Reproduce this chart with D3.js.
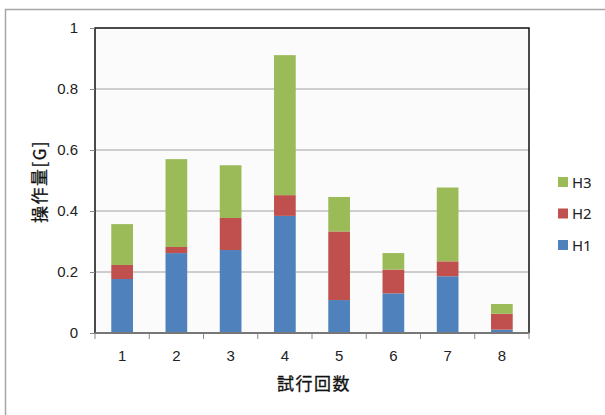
<!DOCTYPE html>
<html lang="ja">
<head>
<meta charset="UTF-8">
<script src="https://d3js.org/d3.v7.min.js"></script>
<style>
  body { margin: 0; padding: 0; background: #fff; }
  svg { display: block; font-family: "Noto Sans", "Noto Sans CJK JP", sans-serif; }
</style>
</head>
<body>
<div id="chart"></div>
<script>
  // 試行回数 and per-trial stacked values
  const trials = ["1", "2", "3", "4", "5", "6", "7", "8"];
  const seriesNames = ["H1", "H2", "H3"];
  const h1 = [0.177, 0.262, 0.272, 0.384, 0.108, 0.130, 0.186, 0.011];
  const h2 = [0.046, 0.020, 0.105, 0.068, 0.225, 0.078, 0.049, 0.052];
  const h3 = [0.134, 0.288, 0.173, 0.459, 0.113, 0.054, 0.242, 0.032];
  const yTicks = [0, 0.2, 0.4, 0.6, 0.8, 1];
  const colors = ["#4f81bd", "#c0504d", "#9bbb59"];

  const W = 605, H = 415;
  const pl = { left: 95, right: 529, top: 28, bottom: 333 };

  const svg = d3.select("#chart").append("svg")
    .attr("width", W).attr("height", H);

  // outer chart border
  svg.append("rect")
    .attr("x", 5.5).attr("y", 9.5)
    .attr("width", 700).attr("height", 500)
    .attr("fill", "#fff").attr("stroke", "#a6a6a6").attr("stroke-width", 1.5);

  const x = d3.scaleBand().domain(trials).range([pl.left, pl.right]).paddingInner(0.6).paddingOuter(0.3);
  const xb = d3.scaleBand().domain(trials).range([pl.left, pl.right]);
  const y = d3.scaleLinear().domain([0, 1]).range([pl.bottom, pl.top]);

  // plot area
  svg.append("rect")
    .attr("x", pl.left).attr("y", pl.top)
    .attr("width", pl.right - pl.left).attr("height", pl.bottom - pl.top)
    .attr("fill", "#fbfbfb");

  // gridlines
  svg.append("g").selectAll("line").data(yTicks.filter(d => d > 0 && d < 1)).enter()
    .append("line")
    .attr("x1", pl.left).attr("x2", pl.right)
    .attr("y1", d => y(d)).attr("y2", d => y(d))
    .attr("stroke", "#a0a0a0").attr("stroke-width", 1);

  // stacked bars
  const rows = trials.map((t, i) => ({ t: t, H1: h1[i], H2: h2[i], H3: h3[i] }));
  const stack = d3.stack().keys(seriesNames)(rows);
  svg.append("g").selectAll("g").data(stack).enter()
    .append("g").attr("fill", (d, i) => colors[i])
    .selectAll("rect").data(d => d).enter()
    .append("rect")
    .attr("x", d => x(d.data.t))
    .attr("width", x.bandwidth())
    .attr("y", d => y(d[1]))
    .attr("height", d => y(d[0]) - y(d[1]));

  // plot border (top, right, left)
  svg.append("path")
    .attr("d", `M${pl.left},${pl.bottom}V${pl.top}H${pl.right}V${pl.bottom}`)
    .attr("fill", "none").attr("stroke", "#111").attr("stroke-width", 1.5);

  // y axis
  const yAxis = svg.append("g").attr("transform", `translate(${pl.left},0)`)
    .call(d3.axisLeft(y).tickValues(yTicks).tickSize(5).tickPadding(12).tickFormat(d3.format("")));
  yAxis.select(".domain").remove();
  yAxis.selectAll("line").attr("stroke", "#888");
  yAxis.selectAll("text").attr("font-size", 15).attr("fill", "#222");

  // x axis
  const xAxis = svg.append("g").attr("transform", `translate(0,${pl.bottom})`)
    .call(d3.axisBottom(xb).tickSize(0).tickPadding(17));
  xAxis.select(".domain").remove();
  xAxis.selectAll("text").attr("font-size", 15).attr("fill", "#222");
  svg.append("g").selectAll("line").data(trials.concat(["end"])).enter()
    .append("line")
    .attr("x1", (d, i) => i < trials.length ? xb(d) : pl.right)
    .attr("x2", (d, i) => i < trials.length ? xb(d) : pl.right)
    .attr("y1", pl.bottom).attr("y2", pl.bottom + 6)
    .attr("stroke", "#888");
  svg.append("line")
    .attr("x1", pl.left).attr("x2", pl.right)
    .attr("y1", pl.bottom).attr("y2", pl.bottom)
    .attr("stroke", "#777").attr("stroke-width", 2);

  // axis titles
  svg.append("text")
    .attr("transform", `translate(46,${(pl.top + pl.bottom) / 2 + 1}) rotate(-90)`)
    .attr("text-anchor", "middle")
    .attr("font-family", "'Noto Sans CJK JP', sans-serif")
    .attr("font-size", 17).attr("letter-spacing", 1.5).attr("fill", "#111")
    .attr("stroke", "#111").attr("stroke-width", 0.3)
    .text("操作量[G]");
  svg.append("text")
    .attr("x", 314).attr("y", 390)
    .attr("text-anchor", "middle")
    .attr("font-family", "'Noto Sans CJK JP', sans-serif")
    .attr("font-size", 17).attr("letter-spacing", 1.5).attr("fill", "#111")
    .attr("stroke", "#111").attr("stroke-width", 0.3)
    .text("試行回数");

  // legend (H3 on top)
  const legY = d3.scalePoint().domain(seriesNames.slice().reverse()).range([182, 245]);
  const leg = svg.append("g").selectAll("g").data(seriesNames).enter()
    .append("g").attr("transform", d => `translate(558,${legY(d)})`);
  leg.append("rect").attr("x", 0).attr("y", -5).attr("width", 10).attr("height", 10)
    .attr("fill", (d, i) => colors[i]);
  leg.append("text").attr("x", 14).attr("y", 5.5)
    .attr("font-size", 15).attr("fill", "#222").text(d => d);
</script>
</body>
</html>
